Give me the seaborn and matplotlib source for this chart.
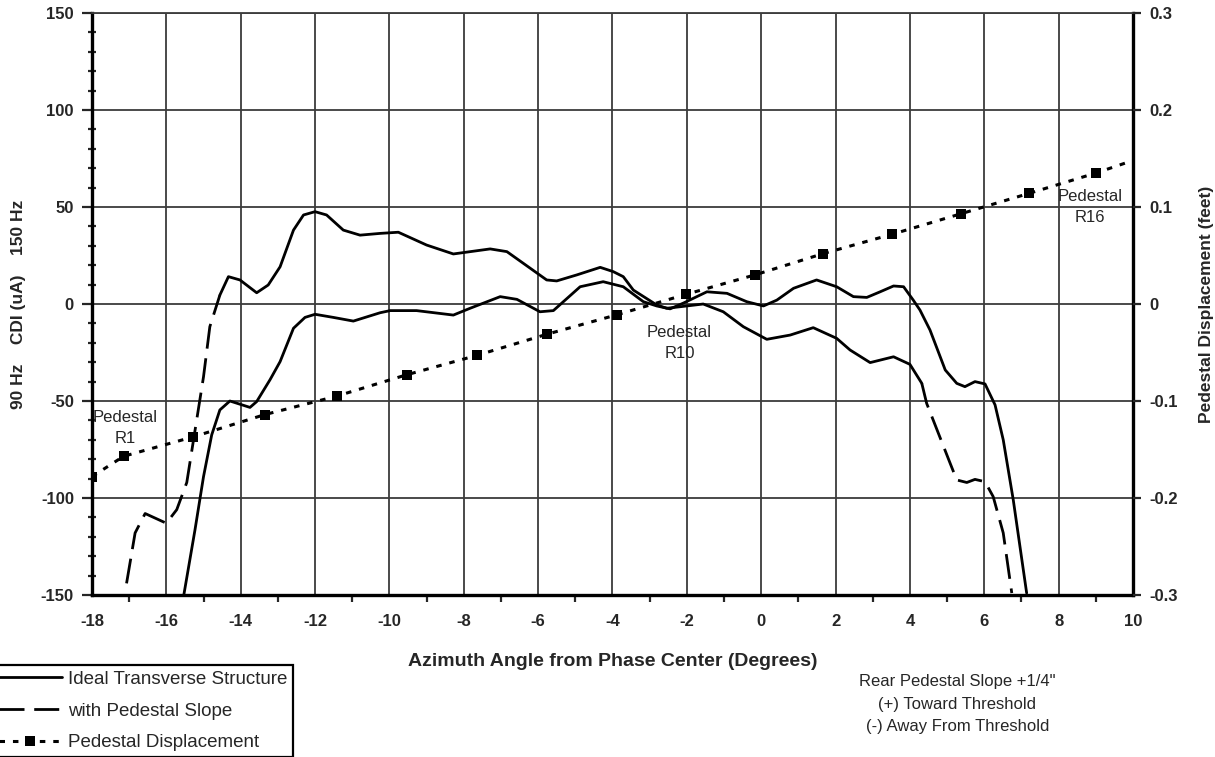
import matplotlib
matplotlib.use("Agg")
import matplotlib.pyplot as plt
import numpy as np
import pandas as pd
import seaborn as sns
from matplotlib.ticker import MultipleLocator, FixedLocator, FixedFormatter

# --- CDI curves (uA) vs azimuth angle (degrees) ---
ideal_x = [-15.53, -15.23, -15.0, -14.78, -14.56, -14.29, -13.75, -13.57, -13.21, -12.94,
           -12.58, -12.27, -12.0, -11.51, -10.97, -10.25, -9.98, -9.27, -8.28, -7.83,
           -7.02, -6.57, -5.95, -5.59, -4.87, -4.25, -3.71, -3.17, -2.81, -2.45,
           -2.09, -1.46, -0.92, -0.39, 0.06, 0.42, 0.87, 1.49, 2.03, 2.48,
           2.84, 3.2, 3.56, 3.83, 4.09, 4.27, 4.54, 4.95, 5.26, 5.48,
           5.75, 6.02, 6.29, 6.51, 6.78, 7.14]
ideal_y = [-150, -116.5, -89, -67.5, -54.6, -50, -53.3, -50.3, -39, -29.7,
           -12.5, -6.9, -5.3, -6.9, -8.8, -4.5, -3.4, -3.4, -5.7, -2.2,
           3.8, 2.4, -4, -3.4, 8.9, 11.5, 8.9, 1.2, -1, -2.5,
           0.5, 6.3, 5.5, 1.2, -1, 2, 8.1, 12.4, 8.9, 3.8,
           3.4, 6.3, 9.3, 8.9, 2, -3.1, -13.4, -34, -40.9, -42.6,
           -40, -41.2, -52, -70, -101, -149]

slope_x = [-17.07, -16.84, -16.57, -16.0, -15.72, -15.45, -15.0, -14.83, -14.56, -14.33,
           -14.02, -13.57, -13.26, -12.94, -12.58, -12.31, -12.0, -11.69, -11.24, -10.79,
           -10.25, -9.76, -9.0, -8.28, -7.29, -6.84, -6.4, -5.77, -5.5, -4.96,
           -4.33, -3.98, -3.71, -3.44, -2.81, -2.54, -2.0, -1.56, -1.02, -0.48,
           0.15, 0.78, 1.4, 2.03, 2.39, 2.93, 3.56, 4.0, 4.32, 4.45,
           5.08, 5.26, 5.53, 5.75, 6.02, 6.24, 6.51, 6.74]
slope_y = [-144, -118, -108, -113, -106, -92, -37.5, -11.7, 4.6, 14.1,
           12.4, 5.8, 9.8, 19.2, 38.1, 45.9, 47.6, 45.9, 38.1, 35.5,
           36.4, 37.0, 30.4, 25.8, 28.4, 27, 21, 12.4, 11.9, 15,
           18.9, 16.7, 14.1, 7.2, -0.5, -2.2, -1, 0, -4, -11.7,
           -18.2, -16, -12.2, -17.7, -23.7, -30.2, -27.2, -31.1, -40.9, -51.2,
           -82, -90.7, -92, -90.4, -91.6, -99.3, -118, -149]

# --- pedestal displacement (feet), right axis ---
disp_x = [-18.0, -17.15, -15.28, -13.35, -11.42, -9.54, -7.65, -5.75, -3.87, -2.02,
          -0.17, 1.67, 3.53, 5.37, 7.2, 9.0, 10.0]
disp_y = [-0.178, -0.157, -0.137, -0.114, -0.095, -0.073, -0.053, -0.031, -0.011, 0.010,
          0.030, 0.052, 0.072, 0.093, 0.114, 0.135, 0.148]

x_ticks = list(range(-18, 11, 2))
left_ticks = [-150, -100, -50, 0, 50, 100, 150]
right_ticks = [-0.3, -0.2, -0.1, 0.0, 0.1, 0.2, 0.3]
right_ticklabels = ["-0.3", "-0.2", "-0.1", "0", "0.1", "0.2", "0.3"]

series_labels = ["Ideal Transverse Structure", "with Pedestal Slope", "Pedestal Displacement"]
pedestal_notes = [("Pedestal\nR1", -17.1, -64), ("Pedestal\nR10", -2.2, -20), ("Pedestal\nR16", 8.85, 50)]
slope_note = "Rear Pedestal Slope +1/4\"\n(+) Toward Threshold\n(-) Away From Threshold"

sns.set_style("white")
plt.rcParams["font.family"] = ["Liberation Sans", "DejaVu Sans"]
plt.rcParams["axes.unicode_minus"] = False
plt.rcParams["lines.solid_joinstyle"] = "round"
plt.rcParams["lines.solid_capstyle"] = "round"

fig = plt.figure(figsize=(12.15, 7.57), dpi=100)
ax = fig.add_axes([0.0757, 0.214, 0.8568, 0.7688])

ideal_df = pd.DataFrame({"x": ideal_x, "y": ideal_y})
slope_df = pd.DataFrame({"x": slope_x, "y": slope_y})

LW = 2.0
sns.lineplot(data=ideal_df, x="x", y="y", ax=ax, sort=False, estimator=None,
             color="black", lw=LW)
ideal_line = ax.lines[-1]

# dashed where points are sparse, continuous where they are dense
sx = np.array(slope_x)
left_part = slope_df[sx <= -14.56]
mid_part = slope_df[(sx >= -14.56) & (sx <= 4.32)]
right_part = slope_df[sx >= 4.32]
dash = (0, (9, 3.5))
sns.lineplot(data=left_part, x="x", y="y", ax=ax, sort=False, estimator=None,
             color="black", lw=LW)
ax.lines[-1].set_linestyle(dash)
slope_line = ax.lines[-1]
sns.lineplot(data=mid_part, x="x", y="y", ax=ax, sort=False, estimator=None,
             color="black", lw=LW)
sns.lineplot(data=right_part, x="x", y="y", ax=ax, sort=False, estimator=None,
             color="black", lw=LW)
ax.lines[-1].set_linestyle(dash)

ax.set_xlim(-18, 10)
ax.set_ylim(-150, 150)
ax.xaxis.set_major_locator(FixedLocator(x_ticks))
ax.xaxis.set_minor_locator(MultipleLocator(1))
ax.yaxis.set_major_locator(FixedLocator(left_ticks))
ax.yaxis.set_minor_locator(MultipleLocator(10))
ax.grid(True, which="major", color="#3c3c3c", lw=1.3)
ax.set_axisbelow(True)

for lab in ax.get_xticklabels() + ax.get_yticklabels():
    lab.set_fontsize(12)
    lab.set_fontweight("bold")
ax.tick_params(axis="y", which="major", direction="out", length=7, width=1.6, pad=6)
ax.tick_params(axis="y", which="minor", direction="inout", length=6, width=1.6, left=True)
ax.tick_params(axis="x", which="major", direction="out", length=6, width=1.6, pad=8)
ax.tick_params(axis="x", which="minor", direction="out", length=5, width=1.6, bottom=True)

for side in ["left", "bottom", "right"]:
    ax.spines[side].set_linewidth(2.4)
    ax.spines[side].set_color("black")
ax.spines["top"].set_linewidth(1.3)
ax.spines["top"].set_color("#3c3c3c")

ax.set_xlabel("Azimuth Angle from Phase Center (Degrees)", fontsize=14, fontweight="bold", labelpad=17)
ax.set_ylabel("90 Hz    CDI (uA)    150 Hz", fontsize=12.5, fontweight="bold", labelpad=11)

# right axis: pedestal displacement
ax2 = ax.twinx()
disp_df = pd.DataFrame({"x": disp_x, "y": disp_y})
sns.lineplot(data=disp_df, x="x", y="y", ax=ax2, sort=False, estimator=None,
             color="black", lw=2.2, marker="s", markersize=7, markeredgewidth=0,
             markevery=list(range(len(disp_x) - 1)))
disp_line = ax2.lines[-1]
disp_line.set_linestyle((0, (1.8, 2.6)))
ax2.set_ylim(-0.3, 0.3)
ax2.yaxis.set_major_locator(FixedLocator(right_ticks))
ax2.yaxis.set_major_formatter(FixedFormatter(right_ticklabels))
ax2.tick_params(axis="y", which="major", direction="out", length=6, width=1.6, pad=6,
                labelsize=12)
for lab in ax2.get_yticklabels():
    lab.set_fontweight("bold")
for sp in ax2.spines.values():
    sp.set_visible(False)
ax2.set_ylabel("Pedestal Displacement (feet)", fontsize=12.5, fontweight="bold", labelpad=15)
ax2.set_xlim(-18, 10)

for text, tx, ty in pedestal_notes:
    ax.text(tx, ty, text, ha="center", va="center", fontsize=12, linespacing=1.5)

fig.text(0.788, 0.070, slope_note, ha="center", va="center", fontsize=12, linespacing=1.62)

leg = fig.legend(handles=[ideal_line, slope_line, disp_line], labels=series_labels,
                 loc="lower left", bbox_to_anchor=(-0.006, 0.0), fontsize=13.5,
                 frameon=True, fancybox=False, edgecolor="black", framealpha=1,
                 handlelength=3.4, handletextpad=0.3, borderpad=0.3, labelspacing=0.78,
                 borderaxespad=0)
leg.get_frame().set_linewidth(1.6)

fig.savefig("out.png", dpi=100)
